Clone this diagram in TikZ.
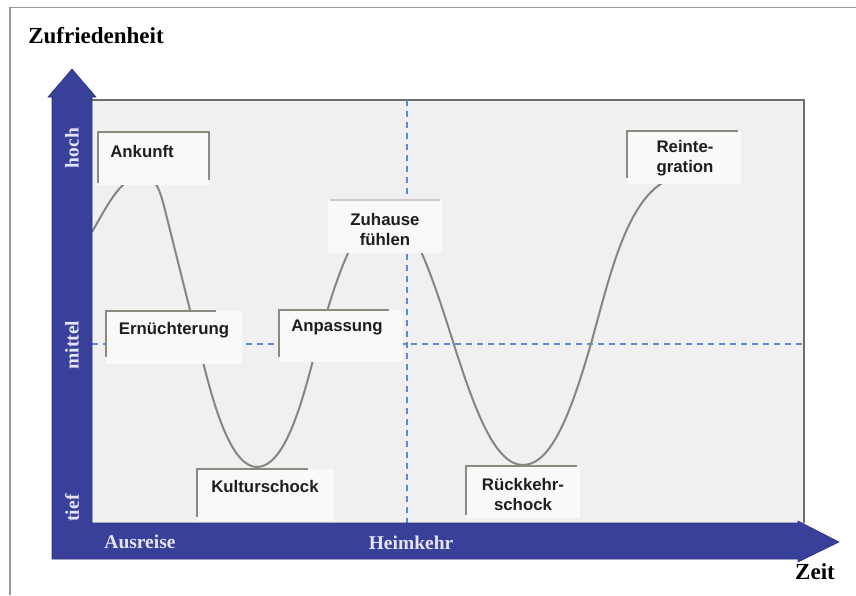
\documentclass[tikz,border=0pt]{standalone}
\usepackage{fontspec}
\setmainfont{Liberation Serif}
\setsansfont{Liberation Sans}
\begin{document}
\begin{tikzpicture}[x=1pt,y=-1pt,
  axisblue/.style={fill=axisfill,draw=axisfill!80!black,line width=0.6pt},
  axislabel/.style={text=axistext,font=\fontsize{19.5}{22}\selectfont\bfseries,inner sep=0pt},
  headline/.style={text=black,font=\fontsize{23}{26}\selectfont\bfseries,inner sep=0pt},
  phasebox/.style={fill=boxfill,draw=none},
  boxedge/.style={draw=edgegray,line width=1.2pt},
  phasetext/.style={font=\sffamily\bfseries\fontsize{16.8}{20}\selectfont,text=textgray,align=center,inner sep=0pt},
  guide/.style={draw=guideblue,line width=1.6pt,dash pattern=on 6pt off 5pt},
  curve/.style={draw=curvegray,line width=2pt}
]
\definecolor{axisfill}{HTML}{38409A}
\definecolor{axistext}{HTML}{E4E4F4}
\definecolor{plotfill}{HTML}{F0F0F0}
\definecolor{plotedge}{HTML}{6E6E6E}
\definecolor{boxfill}{HTML}{F9F9F9}
\definecolor{edgegray}{HTML}{8A8A80}
\definecolor{textgray}{HTML}{1E1E1E}
\definecolor{guideblue}{HTML}{5C8BD6}
\definecolor{curvegray}{HTML}{858585}

\useasboundingbox (0,0) rectangle (856,595);

% outer frame
\draw[draw=gray!80,line width=1.6pt] (10,595) -- (10,7.5) -- (856,7.5);

% plot area
\fill[plotfill] (92,100) rectangle (804,523);
\draw[plotedge,line width=1.6pt] (92,100) -- (804,100) -- (804,523);

% reference lines
\draw[guide] (92,344) -- (804,344);
\draw[guide] (407,100) -- (407,523);

% satisfaction curve
\draw[curve] (92,232) .. controls (106,208) and (120,178) .. (140,176)
  .. controls (156,175) and (160,190) .. (166,214)
  -- (203,362)
  .. controls (215,410) and (232,467) .. (257,467)
  .. controls (283,467) and (300,410) .. (312,364)
  .. controls (330,300) and (352,215) .. (385,212)
  .. controls (410,212) and (428,262) .. (455,348)
  .. controls (475,410) and (495,465) .. (523,465)
  .. controls (552,465) and (572,410) .. (592,340)
  .. controls (612,268) and (630,185) .. (680,176);

% phase labels
\path[phasebox] (98,132) rectangle (209,185);
\draw[boxedge] (98,183) -- (98,132) -- (209,132) -- (209,180);
\node[phasetext] (ankunft) at (142,151) {Ankunft};

\path[phasebox] (106,311) rectangle (242,364);
\draw[boxedge] (106,357) -- (106,311) -- (216,311);
\node[phasetext] (ernuechterung) at (174,330) {Ernüchterung};

\path[phasebox] (197,469) rectangle (334,521);
\draw[boxedge] (197,517) -- (197,469) -- (308,469);
\node[phasetext] (kulturschock) at (265,486) {Kulturschock};

\path[phasebox] (279,310) rectangle (403,362);
\draw[boxedge] (279,357) -- (279,310) -- (389,310);
\node[phasetext] (anpassung) at (337,327) {Anpassung};

\path[phasebox] (328,200) rectangle (442,253);
\draw[boxedge,draw=edgegray!45] (330,200) -- (440,200);
\node[phasetext] (zuhause) at (385,229) {Zuhause\\fühlen};

\path[phasebox] (466,466) rectangle (580,518);
\draw[boxedge] (466,515) -- (466,466) -- (577,466);
\node[phasetext] (rueckkehr) at (523,494) {Rückkehr-\\schock};

\path[phasebox] (627,131) rectangle (741,184);
\draw[boxedge] (627,178) -- (627,131) -- (738,131);
\node[phasetext] (reintegration) at (685,158) {Reinte-\\gration};

% axes
\path[axisblue] (52,97) -- (48,97) -- (72,69) -- (96,97) -- (92,97) -- (92,523)
  -- (798,523) -- (798,521) -- (839,542) -- (798,562) -- (798,559) -- (52,559) -- cycle;

\node[axislabel,rotate=90] (hoch) at (72,148) {hoch};
\node[axislabel,rotate=90] (mittel) at (72,345) {mittel};
\node[axislabel,rotate=90] (tief) at (72,508) {tief};
\node[axislabel] (ausreise) at (140,542) {Ausreise};
\node[axislabel] (heimkehr) at (411,543) {Heimkehr};

\node[headline] (zufriedenheit) at (96,36) {Zufriedenheit};
\node[headline] (zeit) at (815,572) {Zeit};
\end{tikzpicture}
\end{document}
